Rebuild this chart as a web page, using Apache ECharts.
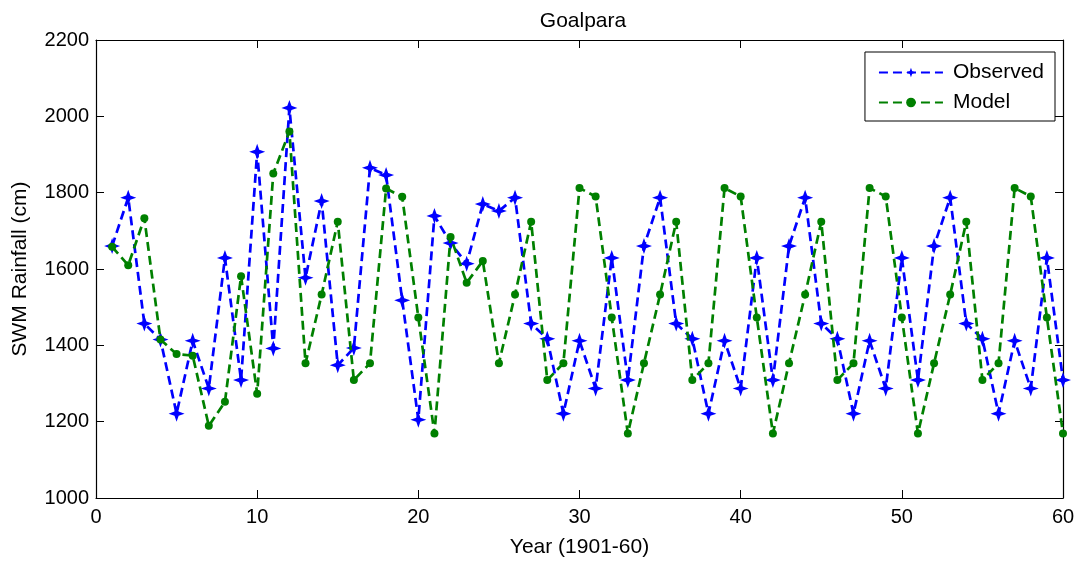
<!DOCTYPE html>
<html>
<head>
    <meta charset="utf-8">
    <title>Goalpara</title>
    <script src="https://cdn.jsdelivr.net/npm/echarts@6/dist/echarts.min.js"></script>
    <style>
        html, body { margin: 0; padding: 0; background: #fff; }
        #main { width: 1078px; height: 564px; }
    </style>
</head>
<body>
<div id="main"></div>
<script>
    // years 1..60 (1901-60)
    var years = [];
    for (var i = 1; i <= 60; i++) years.push(i);

    var observed = [1660, 1787, 1457, 1415, 1221, 1412, 1287, 1629, 1309, 1907,
                    1392, 2022, 1577, 1778, 1348, 1393, 1865, 1846, 1518, 1205,
                    1739, 1668, 1614, 1770, 1752, 1787, 1457, 1417, 1221, 1412,
                    1287, 1629, 1309, 1660, 1787, 1457, 1417, 1221, 1412, 1287,
                    1629, 1309, 1660, 1787, 1457, 1417, 1221, 1412, 1287, 1629,
                    1309, 1660, 1787, 1457, 1417, 1221, 1412, 1287, 1629, 1309];

    var model = [1658, 1610, 1733, 1415, 1377, 1373, 1189, 1252, 1581, 1273,
                 1850, 1960, 1353, 1533, 1724, 1309, 1353, 1811, 1789, 1473,
                 1169, 1684, 1564, 1621, 1353, 1533, 1724, 1309, 1353, 1812,
                 1790, 1473, 1169, 1353, 1533, 1724, 1309, 1353, 1812, 1790,
                 1473, 1169, 1353, 1533, 1724, 1309, 1353, 1812, 1790, 1473,
                 1169, 1353, 1533, 1724, 1309, 1353, 1812, 1790, 1473, 1169];

    var xTicks = { min: 0, max: 60, step: 10 };
    var yTicks = { min: 1000, max: 2200, step: 200 };

    function pairs(xs, ys) {
        return xs.map(function (x, k) { return [x, ys[k]]; });
    }

    var font = 'Liberation Sans, Arial, sans-serif';
    var starPath = 'path://M0,-10 L2.6,-2.6 L10,0 L2.6,2.6 L0,10 L-2.6,2.6 L-10,0 L-2.6,-2.6 Z';

    // 坐标轴公共样式 (matlab 风格, 刻度朝内)
    function axisBase(pos, showLabel) {
        return {
            type: 'value',
            position: pos,
            axisLine: { show: true, onZero: false, lineStyle: { color: '#000', width: 1.2 } },
            axisTick: { show: true, inside: true, length: 8, lineStyle: { color: '#000', width: 1 } },
            axisLabel: {
                show: showLabel, color: '#000', fontSize: 20, fontFamily: font,
                formatter: function (v) { return String(v); }
            },
            splitLine: { show: false }
        };
    }

    var xBottom = axisBase('bottom', true);
    xBottom.min = xTicks.min; xBottom.max = xTicks.max; xBottom.interval = xTicks.step;
    xBottom.name = 'Year (1901-60)';
    xBottom.nameLocation = 'middle';
    xBottom.nameGap = 39;
    xBottom.nameTextStyle = { color: '#000', fontSize: 21, fontFamily: font };
    xBottom.axisLabel.margin = 9;

    var xTop = axisBase('top', false);
    xTop.min = xTicks.min; xTop.max = xTicks.max; xTop.interval = xTicks.step;

    var yLeft = axisBase('left', true);
    yLeft.min = yTicks.min; yLeft.max = yTicks.max; yLeft.interval = yTicks.step;
    yLeft.name = 'SWM Rainfall (cm)';
    yLeft.nameLocation = 'middle';
    yLeft.nameGap = 65;
    yLeft.nameTextStyle = { color: '#000', fontSize: 21, fontFamily: font };
    yLeft.axisLabel.margin = 7;

    var yRight = axisBase('right', false);
    yRight.min = yTicks.min; yRight.max = yTicks.max; yRight.interval = yTicks.step;

    var myChart = echarts.init(document.getElementById('main'));
    myChart.setOption({
        animation: false,
        backgroundColor: '#fff',
        title: {
            text: 'Goalpara',
            left: 578,
            textAlign: 'center',
            top: 6,
            textStyle: { color: '#000', fontSize: 21, fontWeight: 'normal', fontFamily: font }
        },
        legend: {
            orient: 'vertical',
            right: 23,
            top: 52,
            padding: [10, 11, 8, 13],
            itemGap: 9,
            itemWidth: 64,
            itemHeight: 12,
            borderColor: '#000',
            borderWidth: 1,
            backgroundColor: '#fff',
            textStyle: { color: '#000', fontSize: 21, fontFamily: font, padding: [0, 0, 0, 5] },
            data: ['Observed', 'Model']
        },
        grid: { left: 96, right: 15, top: 40, bottom: 66 },
        xAxis: [xBottom, xTop],
        yAxis: [yLeft, yRight],
        series: [
            {
                name: 'Observed',
                type: 'line',
                xAxisIndex: 0,
                yAxisIndex: 0,
                symbol: starPath,
                symbolSize: 16,
                itemStyle: { color: '#0000ff' },
                lineStyle: { color: '#0000ff', width: 2.7, type: [9, 5] },
                z: 2,
                data: pairs(years, observed)
            },
            {
                name: 'Model',
                type: 'line',
                xAxisIndex: 0,
                yAxisIndex: 0,
                symbol: 'circle',
                symbolSize: 8,
                itemStyle: { color: '#008000' },
                lineStyle: { color: '#008000', width: 2.7, type: [9, 5] },
                z: 3,
                data: pairs(years, model)
            }
        ]
    });
</script>
</body>
</html>
